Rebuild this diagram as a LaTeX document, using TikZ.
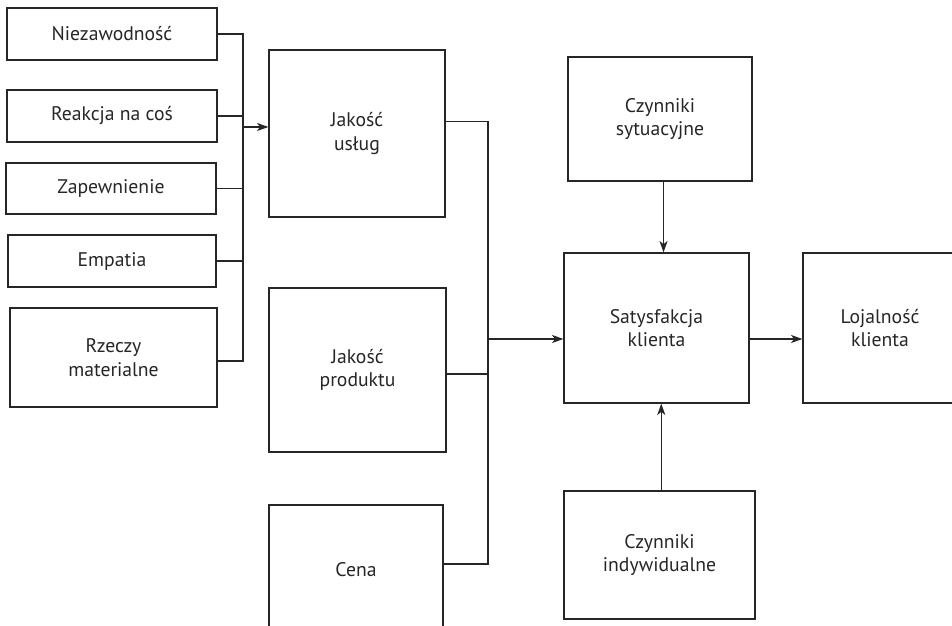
\documentclass[tikz,border=0pt]{standalone}
\usepackage{fontspec}
\setmainfont{PT Sans}
\usepackage{tikz}
\usetikzlibrary{arrows.meta,positioning}

\tikzset{
	blok/.style={draw=black!85, line width=0.7pt, align=center, inner sep=0pt, font=\fontsize{11.2}{13.5}\selectfont, text=black!85},
	lacz/.style={draw=black!85, line width=0.7pt},
}

\begin{document}
\begin{tikzpicture}[x=0.02cm, y=-0.02cm, >={Stealth[length=6.5pt, width=4.6pt, inset=1.8pt]}]
\useasboundingbox (0,0) rectangle (952,625);
\clip (0,0) rectangle (952,625);

% ---- wymiary jakości usług ----
\node[blok, minimum width=210*0.02cm, minimum height=52*0.02cm] (niez) at (112,34) {Niezawodność};
\node[blok, minimum width=210*0.02cm, minimum height=52*0.02cm] (reak) at (112,116) {Reakcja na coś};
\node[blok, minimum width=210*0.02cm, minimum height=51*0.02cm] (zap) at (111,188.5) {Zapewnienie};
\node[blok, minimum width=208*0.02cm, minimum height=52*0.02cm] (emp) at (112,261) {Empatia};
\node[blok, minimum width=207*0.02cm, minimum height=99*0.02cm] (rzecz) at (113.5,357.5) {Rzeczy\\materialne};

% ---- czynniki satysfakcji ----
\node[blok, minimum width=176*0.02cm, minimum height=167*0.02cm] (usl) at (357,133.5) {Jakość\\usług};
\node[blok, minimum width=177*0.02cm, minimum height=164*0.02cm] (prod) at (357.5,370) {Jakość\\produktu};
\node[blok, minimum width=174*0.02cm, minimum height=130*0.02cm] (cena) at (356,570) {Cena};

% ---- satysfakcja i lojalność ----
\node[blok, minimum width=184*0.02cm, minimum height=124*0.02cm] (sytu) at (660,119) {Czynniki\\sytuacyjne};
\node[blok, minimum width=185*0.02cm, minimum height=150*0.02cm] (saty) at (656.5,328) {Satysfakcja\\klienta};
\node[blok, minimum width=154*0.02cm, minimum height=150*0.02cm] (loj) at (880,328) {Lojalność\\klienta};
\node[blok, minimum width=191*0.02cm, minimum height=128*0.02cm] (indyw) at (659.5,555) {Czynniki\\indywidualne};

% szyny zbiorcze
\coordinate (jL) at (243,127);
\coordinate (jR) at (488,339);

\draw[lacz] (niez.east) -- (niez.east -| jL) -- ([yshift=-2pt]rzecz.east -| jL) -- ([yshift=-2pt]rzecz.east);
\foreach \n in {reak,zap,emp}
	\draw[lacz] (\n.east) -- (\n.east -| jL);
\draw[lacz,->] (jL) -- (jL -| usl.west);

\draw[lacz] ([yshift=7pt]usl.east) -| ([yshift=3.4pt]cena.east -| jR) -- ([yshift=3.4pt]cena.east);
\draw[lacz] ([yshift=-2.3pt]prod.east) -- ([yshift=-2.3pt]prod.east -| jR);
\draw[lacz,->] (jR) -- (jR -| saty.west);

\draw[lacz,->] ([xshift=2pt]sytu.south) -- ([xshift=2pt]sytu.south |- saty.north);
\draw[lacz,->] ([xshift=1pt]indyw.north) -- ([xshift=1pt]indyw.north |- saty.south);
\draw[lacz,->] (jR -| saty.east) -- (jR -| loj.west);
\end{tikzpicture}
\end{document}
